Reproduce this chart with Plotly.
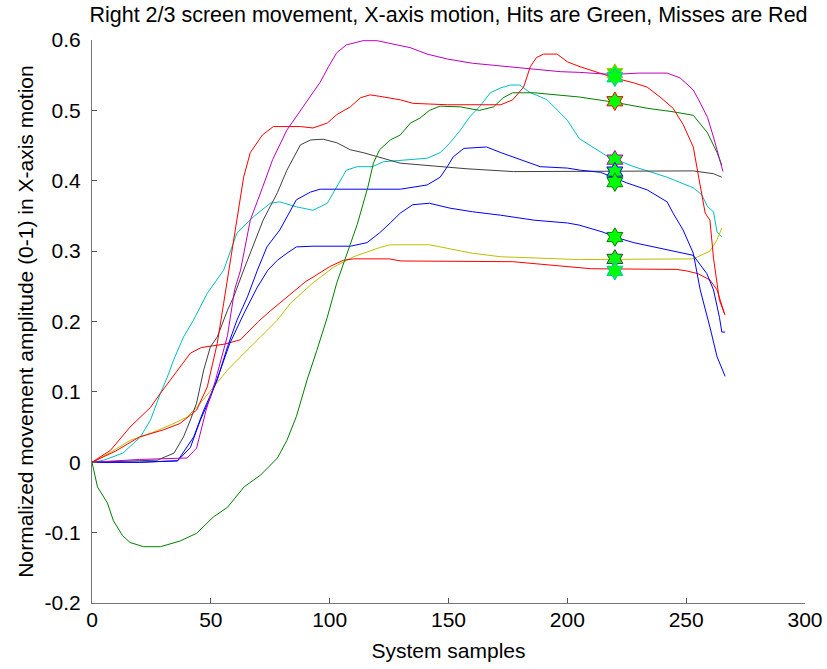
import plotly.graph_objects as go

# ---- data ----
magenta_x = [0, 20, 40, 44, 48, 52, 57, 60, 62.5, 66.6, 71.7, 76, 82, 87.7, 96, 99.5, 103, 107, 114, 120, 125.5, 134, 141, 149.5, 160, 172, 186, 197, 205, 219, 230, 242, 247.5, 253, 256, 259, 261.5, 264, 265.5]
magenta_y = [0, 0.004, 0.006, 0.02, 0.074, 0.117, 0.18, 0.245, 0.273, 0.344, 0.39, 0.43, 0.472, 0.50, 0.54, 0.562, 0.582, 0.593, 0.599, 0.599, 0.595, 0.589, 0.58, 0.573, 0.567, 0.563, 0.559, 0.555, 0.554, 0.551, 0.553, 0.553, 0.546, 0.529, 0.51, 0.49, 0.462, 0.43, 0.413]

red1_x = [0, 10, 20, 30, 37, 44, 48.5, 51, 52.7, 55.4, 57, 61, 63.8, 66.6, 71.7, 76.3, 87.7, 93, 99, 103, 108.7, 113, 117, 121, 129.7, 135, 149.5, 172, 177, 181.6, 184.4, 187, 190, 195.7, 200, 205.4, 214, 220, 228, 233.6, 239, 244.5, 248.7, 251, 253, 255, 256.6, 258, 260, 261.5, 264, 266.4]
red1_y = [0, 0.016, 0.036, 0.046, 0.055, 0.074, 0.107, 0.145, 0.169, 0.226, 0.259, 0.344, 0.405, 0.44, 0.465, 0.477, 0.477, 0.475, 0.482, 0.494, 0.505, 0.518, 0.522, 0.52, 0.515, 0.51, 0.508, 0.508, 0.515, 0.533, 0.562, 0.575, 0.58, 0.58, 0.569, 0.562, 0.553, 0.546, 0.539, 0.533, 0.519, 0.503, 0.48, 0.462, 0.448, 0.41, 0.383, 0.354, 0.344, 0.29, 0.23, 0.209]

red2_x = [0, 7.8, 16, 24.6, 28.8, 36, 41.4, 46, 51, 56, 62.4, 65, 70, 75, 82, 90, 93, 100, 105.8, 110, 125, 130, 177, 186, 200, 210, 246, 250, 255, 260, 263, 266]
red2_y = [0, 0.017, 0.05, 0.078, 0.098, 0.131, 0.155, 0.163, 0.166, 0.168, 0.174, 0.183, 0.2, 0.215, 0.235, 0.257, 0.263, 0.278, 0.287, 0.289, 0.289, 0.286, 0.285, 0.282, 0.278, 0.275, 0.274, 0.272, 0.268, 0.259, 0.245, 0.212]

green_x = [0, 2.3, 6.5, 9, 12.8, 16, 21.7, 28.8, 37, 44, 51, 57, 64, 71, 78, 82, 86, 90.5, 94.6, 99, 103, 107, 111.6, 116, 118.4, 121, 125.5, 129.7, 134, 138, 142, 146.5, 155, 163, 169, 173, 177, 186, 197, 205, 219, 233.6, 244.5, 253, 259, 263, 265]
green_y = [0, -0.035, -0.058, -0.083, -0.104, -0.114, -0.12, -0.12, -0.112, -0.101, -0.078, -0.064, -0.035, -0.018, 0.006, 0.031, 0.065, 0.117, 0.159, 0.206, 0.255, 0.295, 0.338, 0.39, 0.425, 0.444, 0.458, 0.465, 0.482, 0.489, 0.5, 0.506, 0.505, 0.50, 0.505, 0.518, 0.525, 0.525, 0.522, 0.519, 0.512, 0.503, 0.498, 0.493, 0.468, 0.44, 0.422]

cyan_x = [0, 5, 13, 20.4, 24.6, 28.8, 31.7, 34.3, 38.5, 42.7, 48.5, 55.4, 61, 68, 75, 79, 86, 93, 99, 103, 107, 111.6, 118, 122.6, 141, 146.5, 150.7, 155, 159, 163, 167.6, 172, 176, 180, 184, 191.5, 196, 200, 205, 216.7, 228, 242, 253, 256.6, 259, 261.5, 263, 265]
cyan_y = [0, 0.003, 0.013, 0.036, 0.06, 0.098, 0.121, 0.145, 0.178, 0.202, 0.24, 0.273, 0.326, 0.349, 0.368, 0.37, 0.363, 0.358, 0.368, 0.391, 0.415, 0.42, 0.42, 0.427, 0.432, 0.44, 0.454, 0.472, 0.491, 0.505, 0.525, 0.532, 0.536, 0.536, 0.526, 0.515, 0.50, 0.486, 0.46, 0.435, 0.42, 0.405, 0.39, 0.38, 0.363, 0.356, 0.327, 0.32]

gray_x = [0, 20, 27.5, 34.5, 38.5, 41.4, 44, 47, 49.8, 52.7, 57, 59.6, 63.8, 72, 78, 82, 85, 87.7, 92, 97.3, 103, 108.7, 114, 120, 129.7, 143.6, 157.8, 177.4, 200, 253, 261.5, 265]
gray_y = [0, 0.002, 0.003, 0.013, 0.036, 0.06, 0.084, 0.131, 0.164, 0.178, 0.216, 0.235, 0.273, 0.344, 0.383, 0.415, 0.434, 0.451, 0.458, 0.459, 0.454, 0.444, 0.44, 0.434, 0.425, 0.421, 0.417, 0.413, 0.413, 0.414, 0.41, 0.405]

blue1_x = [0, 20, 36, 42.8, 47, 52.7, 57, 61, 65.4, 69.6, 73.6, 79, 86, 92, 96, 129.7, 141, 146.5, 149.5, 152, 156.5, 166, 172, 180, 188.6, 200, 205.5, 214, 219, 225, 233.6, 242, 244.5, 248.7, 253, 255.9, 260, 263, 266.4]
blue1_y = [0, 0, 0.002, 0.036, 0.074, 0.117, 0.164, 0.202, 0.235, 0.273, 0.306, 0.33, 0.373, 0.384, 0.388, 0.388, 0.394, 0.405, 0.42, 0.434, 0.446, 0.448, 0.44, 0.43, 0.42, 0.418, 0.415, 0.412, 0.405, 0.397, 0.387, 0.37, 0.354, 0.33, 0.297, 0.245, 0.192, 0.15, 0.122]

blue2_x = [0, 20, 36, 41.4, 45.6, 49.8, 54, 58, 64, 69.6, 74, 78, 82, 86, 93, 108.7, 115.7, 121, 125.5, 129.7, 135, 142, 150.7, 160, 172, 186, 200, 205, 215, 220, 228, 239, 250, 253, 258.7, 261.5, 264, 265, 266.4]
blue2_y = [0, 0, 0.002, 0.021, 0.06, 0.092, 0.131, 0.169, 0.212, 0.249, 0.273, 0.287, 0.297, 0.306, 0.307, 0.307, 0.312, 0.326, 0.34, 0.354, 0.366, 0.368, 0.361, 0.356, 0.351, 0.344, 0.34, 0.337, 0.327, 0.32, 0.312, 0.304, 0.297, 0.294, 0.268, 0.245, 0.206, 0.185, 0.185]

yellow_x = [0, 7.8, 16, 24.6, 33, 40, 45.6, 51, 57, 64, 71, 78, 83.5, 93, 101.6, 110, 121, 125.5, 142, 149.5, 160, 172, 186, 205, 253, 256, 260, 263, 265]
yellow_y = [0, 0.014, 0.031, 0.041, 0.053, 0.064, 0.084, 0.107, 0.131, 0.155, 0.178, 0.202, 0.226, 0.255, 0.277, 0.292, 0.305, 0.309, 0.309, 0.304, 0.297, 0.292, 0.29, 0.288, 0.289, 0.294, 0.30, 0.316, 0.333]

hit_x = [220, 220, 220, 220, 220, 220, 220, 220, 220]
hit_y = [0.553, 0.547, 0.513, 0.43, 0.413, 0.398, 0.32, 0.289, 0.272]
hit_edges = ["#BFBF00", "#00BFBF", "#FF0000", "#BF00BF", "#0000FF", "#008000", "#008000", "#404040", "#00BFBF"]

x_ticks = [0, 50, 100, 150, 200, 250, 300]
y_ticks = [-0.2, -0.1, 0, 0.1, 0.2, 0.3, 0.4, 0.5, 0.6]
y_ticktext = ["-0.2", "-0.1", "0", "0.1", "0.2", "0.3", "0.4", "0.5", "0.6"]

series = [
    (cyan_x, cyan_y, "#00BFBF"),
    (yellow_x, yellow_y, "#BFBF00"),
    (red2_x, red2_y, "#FF0000"),
    (gray_x, gray_y, "#404040"),
    (blue2_x, blue2_y, "#0000FF"),
    (blue1_x, blue1_y, "#0000FF"),
    (green_x, green_y, "#008000"),
    (red1_x, red1_y, "#FF0000"),
    (magenta_x, magenta_y, "#BF00BF"),
]

fig = go.Figure()
for xs, ys, c in series:
    fig.add_trace(go.Scatter(x=xs, y=ys, mode="lines", line=dict(color=c, width=1), showlegend=False, hoverinfo="skip"))

fig.add_trace(go.Scatter(
    x=hit_x, y=hit_y, mode="markers", showlegend=False, hoverinfo="skip",
    marker=dict(symbol="hexagram", size=14, color="#00FF00", line=dict(color=hit_edges, width=1)),
))

FS = 21
font_family = "Liberation Sans, Arial, sans-serif"
fig.update_layout(
    width=827, height=669,
    paper_bgcolor="white", plot_bgcolor="white",
    margin=dict(l=92, r=22, t=40, b=66),
    font=dict(family=font_family, size=FS, color="black"),
    title=dict(text="Right 2/3 screen movement, X-axis motion, Hits are Green, Misses are Red",
               x=0.5, xref="paper", xanchor="center", y=1 - 14 / 669, yref="container", yanchor="middle",
               font=dict(size=21.5, color="black")),
    xaxis=dict(range=[0, 300], tickvals=x_ticks, ticks="inside", ticklen=5, automargin=False,
               tickcolor="#555", showline=True, linecolor="#777", linewidth=1, showgrid=False, zeroline=False,
               ticklabelstandoff=-2,
               title=dict(text="System samples", standoff=13, font=dict(size=FS))),
    yaxis=dict(range=[-0.2, 0.6], tickvals=y_ticks, ticktext=y_ticktext, automargin=False,
               ticks="inside", ticklen=5, tickcolor="#555", showline=True, linecolor="#777", linewidth=1,
               showgrid=False, zeroline=False, ticklabelstandoff=6,
               title=dict(text="Normalized movement amplitude (0-1) in X-axis motion", standoff=5, font=dict(size=FS))),
)

fig.write_html("out.html", config={"displayModeBar": False},
               post_script="document.body.style.margin='0';document.body.style.padding='0';")
